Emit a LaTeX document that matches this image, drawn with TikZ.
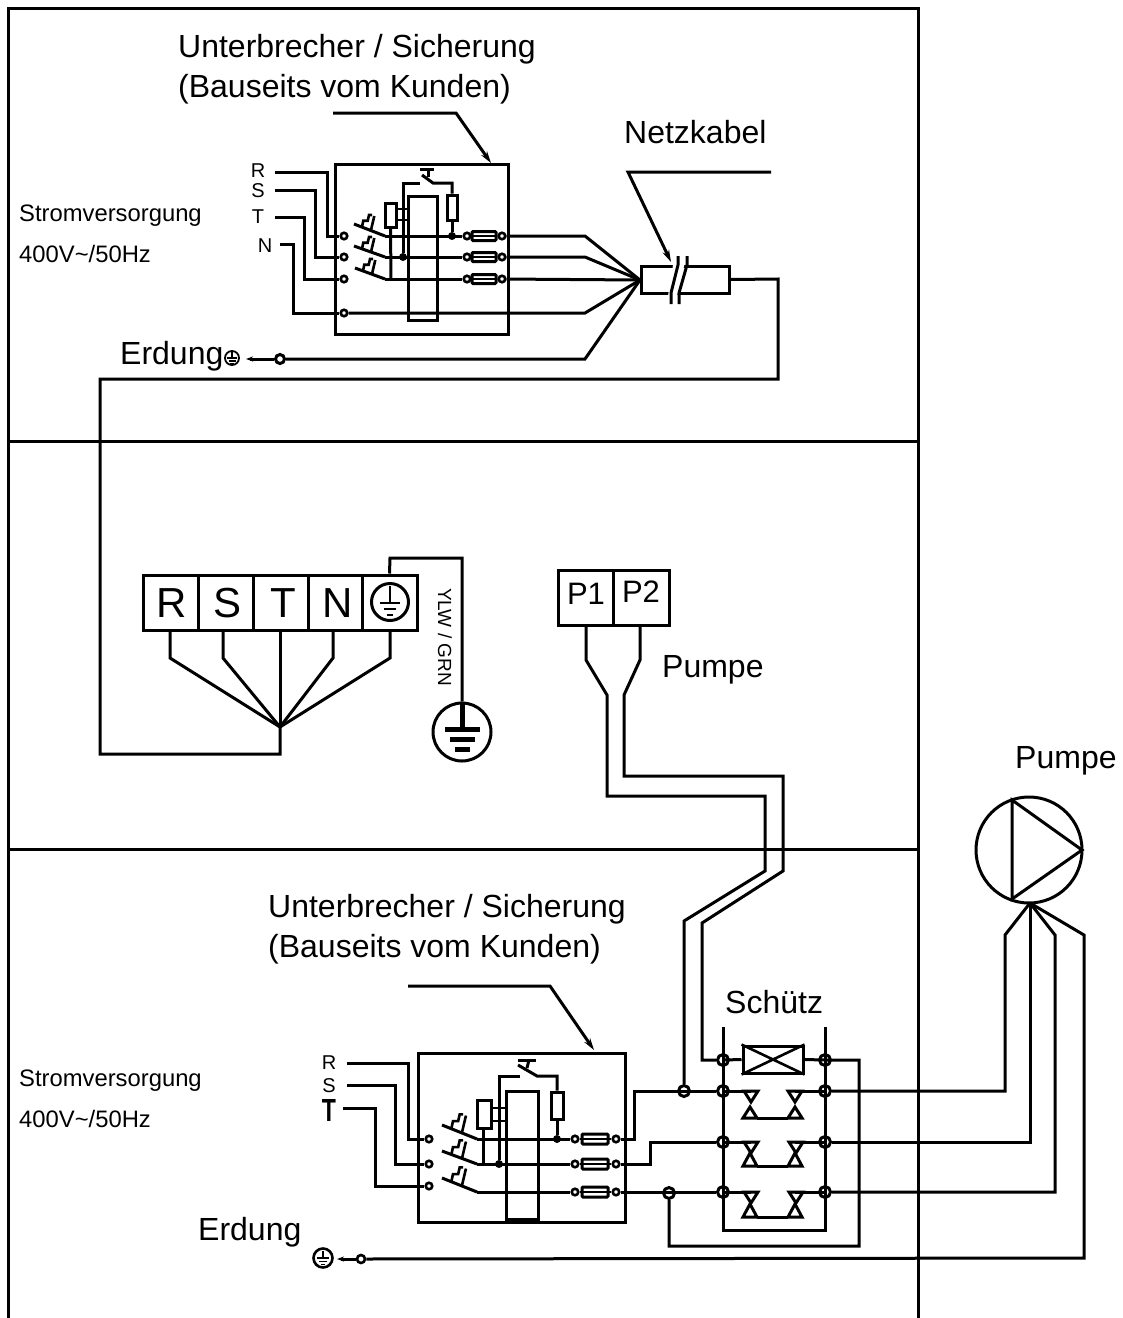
\documentclass[tikz,border=0pt]{standalone}
\usepackage{fontspec}
\setmainfont{Liberation Sans}
\usetikzlibrary{arrows.meta,calc}
\tikzset{
 wire/.style={line width=3pt,line join=miter},
 thin wire/.style={line width=2.6pt},
 ptr/.style={line width=3pt,-{Stealth[length=12pt,width=7pt]}},
 term/.style={circle,draw,fill=white,line width=2.6pt,inner sep=0pt,minimum size=6.5pt},
 dotn/.style={circle,fill=black,inner sep=0pt,minimum size=8pt},
 cross/.style={circle,draw,line width=3pt,inner sep=0pt,minimum size=11pt},
 boxn/.style={rectangle,draw,line width=3pt,inner sep=0pt},
 fuse/.style={boxn,rounded corners=1pt,minimum width=24pt,minimum height=9pt},
 lab/.style={anchor=base west,inner sep=0pt,font=\fontsize{32}{36}\selectfont},
 small/.style={anchor=base west,inner sep=0pt,font=\fontsize{23.8}{26}\selectfont},
 phase/.style={anchor=center,inner sep=0pt,font=\fontsize{20}{22}\selectfont},
 big/.style={anchor=base,inner sep=0pt,font=\fontsize{42}{46}\selectfont},
 pin/.style={anchor=base,inner sep=0pt,font=\fontsize{31}{36}\selectfont},
 tip/.style={-{Stealth[length=7pt,width=5pt]},line width=3pt}
}
% switch mark: #1 blade start, #2 scale
\newcommand{\swmark}[2]{%
 \begin{scope}[shift={(#1)},x=#2pt,y=-#2pt]
  \draw[thin wire] (8,2.7) -- (9.3,-3.3) -- (13.7,-3.3) -- (15,-9) -- (18,-9);
  \draw[thin wire] (20.3,-8) -- (17,6);
 \end{scope}}
\newcommand{\contact}[3]{%
 \draw[wire,line join=miter] (#1,#2) -- ++(14,0) -- ++(-7,#3) -- cycle;}
\newcommand{\contactup}[3]{%
 \draw[wire,line join=miter] (#1,#2) -- ++(14,0) -- ++(-7,-#3) -- cycle;}
\begin{document}
\begin{tikzpicture}[x=1pt,y=-1pt]
\useasboundingbox (0,0) rectangle (1123,1318);
\fill[white] (0,0) rectangle (1123,1318);
% frame
\coordinate (fTL) at (8,8); \coordinate (fTR) at (918,8);
\coordinate (fBL) at (8,1318); \coordinate (fBR) at (918,1318);
\draw[wire] (fBL) -- (fTL) -- (fTR) -- (fBR);
\draw[wire] (8,441) -- (918,441);
\draw[wire] (8,849) -- (918,849);

%%%%%%%%%%%%% top section
\node[lab] (t1) at (178,57) {Unterbrecher / Sicherung};
\node[lab] (t2) at (178,97) {(Bauseits vom Kunden)};
\node[lab] (t3) at (624,143) {Netzkabel};
\node[small] (t4) at (19,221) {Stromversorgung};
\node[small] (t5) at (19,262) {400V\textasciitilde/50Hz};
\node[lab] (t6) at (120,364) {Erdung};
\node[phase] (lR) at (258,171) {R};
\node[phase] (lS) at (258,191) {S};
\node[phase] (lT) at (258,217) {T};
\node[phase] (lN) at (265,246) {N};

\node[boxn,minimum width=173pt,minimum height=170pt] (brk) at (421.5,249) {};
\node[boxn,minimum width=29pt,minimum height=124pt] (core) at (422.5,258) {};

\coordinate (R0) at (275,172); \coordinate (S0) at (275,190); \coordinate (T0) at (275,217); \coordinate (N0) at (280,244);
\node[term] (Ra) at (344,236) {}; \node[term] (Sa) at (344,257) {}; \node[term] (Ta) at (344,279) {}; \node[term] (Na) at (344,313) {};
\draw[wire] (R0) -- (327,172) -- (327,236) -- (Ra);
\draw[wire] (S0) -- (315,190) -- (315,257) -- (Sa);
\draw[wire] (T0) -- (304,217) -- (304,279) -- (Ta);
\draw[wire] (N0) -- (293,244) -- (293,313) -- (Na);
% blades
\coordinate (Rb) at (385,236); \coordinate (Sb) at (385,257); \coordinate (Tb) at (385,279);
\draw[wire] (354,224) -- (Rb); \draw[wire] (354,246) -- (Sb); \draw[wire] (355,268) -- (Tb);
\swmark{354,224}{1} \swmark{354,246}{1} \swmark{355,268}{1}
\node[term] (Rc) at (467,236) {}; \node[term] (Sc) at (467,257) {}; \node[term] (Tc) at (467,279) {};
\node[term] (Rd) at (502,236) {}; \node[term] (Sd) at (502,257) {}; \node[term] (Td) at (502,279) {};
\draw[wire] (Rb) -- (Rc); \draw[wire] (Sb) -- (Sc); \draw[wire] (Tb) -- (Tc);
\node[fuse] (Rf) at (484,236) {}; \node[fuse] (Sf) at (484,257) {}; \node[fuse] (Tf) at (484,279) {};
\draw[line width=1.3pt] (Rc) -- (Rd); \draw[line width=1.3pt] (Sc) -- (Sd); \draw[line width=1.3pt] (Tc) -- (Td);
% merge
\coordinate (M) at (640,280);
\draw[wire] (Rd) -- (585,236) -- (M);
\draw[wire] (Sd) -- (585,257) -- (M);
\draw[wire] (Td) -- (M);
\draw[wire] (Na) -- (585,313) -- (M);
% coil
\node[boxn,minimum width=11pt,minimum height=24pt] (coil) at (390.5,215) {};
\draw[wire] (coil.south) -- (391,279);
\draw[thin wire] (396,209) -- (408,209);
\draw[thin wire] (396,220) -- (408,220);
\node[dotn] (Sj) at (403,257) {};
\node[dotn] (Rj) at (452,236) {};
\node[boxn,minimum width=10pt,minimum height=25pt] (res) at (452,207.5) {};
\coordinate (pbL) at (422,175); \coordinate (pbR) at (433,183);
\draw[wire] (Sj) -- (403,183) -- (420,183);
\draw[wire] (pbL) -- (pbR) -- (452,183) -- (res);
\draw[wire] (res) -- (Rj);
\draw[wire] (420,169) -- (434,169); \draw[wire] (428,169) -- (428,177);
% pointer
\draw[ptr] (333,113) -- (456,113) -- (491,163);
% cable
\node[boxn,minimum width=88pt,minimum height=27pt] (cab) at (685,279.5) {};
\fill[white] (673.5,262) -- (685,262) -- (677,296) -- (668,296) -- cycle;
\draw[wire] (678,256) -- (678,265) -- (671,293) -- (671,304);
\draw[wire] (687,256) -- (687,265) -- (679,293) -- (679,304);
\draw[ptr] (771,172) -- (628,172) -- (671,262);
% earth top
\node[circle,draw,line width=1.8pt,inner sep=0pt,minimum size=14pt] (gt) at (232,358) {};
\draw[line width=1.5pt] (232,352) -- (232,358) (227,358) -- (237,358) (228.5,361) -- (235.5,361) (230,363.5) -- (234,363.5);
\node[term,line width=3pt,minimum size=9pt] (gta) at (280,359) {};
\draw[tip] (gta) -- (246,359);
\draw[wire] (gta) -- (585,359) -- (M);
% outlet
\coordinate (Wa) at (778,279); \coordinate (Wb) at (778,379); \coordinate (Wc) at (100,379); \coordinate (Wd) at (100,754); \coordinate (We) at (280,754);
\coordinate (Hub) at (280,727);
\draw[wire] (cab.east) -- (Wa) -- (Wb) -- (Wc) -- (Wd) -- (We) -- (Hub);

%%%%%%%%%%%%% middle
\node[boxn,minimum width=55pt,minimum height=55pt] (bR) at (170.5,602.5) {};
\node[boxn,minimum width=55pt,minimum height=55pt] (bS) at (225.5,602.5) {};
\node[boxn,minimum width=55pt,minimum height=55pt] (bT) at (280.5,602.5) {};
\node[boxn,minimum width=54pt,minimum height=55pt] (bN) at (335,602.5) {};
\node[boxn,minimum width=55pt,minimum height=55pt] (bG) at (389.5,602.5) {};
\node[big] at (172,617) {R};
\node[big] at (228,617) {S};
\node[big] at (283,617) {T};
\node[big] at (338,617) {N};
\node[circle,draw,line width=3pt,inner sep=0pt,minimum size=37pt] (gc) at (390,602) {};
\draw[line width=2.4pt] (390,586) -- (390,603) (380,603) -- (400,603) (384,609) -- (396,609) (387,615) -- (393,615);
\draw[wire] (170,630) -- (170,658) -- (Hub);
\draw[wire] (223,630) -- (223,658) -- (Hub);
\draw[wire] (280,630) -- (Hub);
\draw[wire] (333,630) -- (333,658) -- (Hub);
\draw[wire] (390,630) -- (390,658) -- (Hub);
\node[circle,draw,line width=3pt,inner sep=0pt,minimum size=58pt] (ge) at (462,732) {};
\draw[wire] (bG.north) -- (390,558) -- (462,558) -- (ge.north);
\draw[line width=5pt] (462,703) -- (462,728);
\draw[line width=5pt] (445,729) -- (480,729) (450,739) -- (475,739) (455,749) -- (470,749);
\node[rotate=-90,inner sep=0pt,font=\fontsize{19}{21}\selectfont] (yg) at (445,637) {YLW / GRN};

\node[boxn,minimum width=55pt,minimum height=55pt] (P1) at (586,597.5) {};
\node[boxn,minimum width=56pt,minimum height=55pt] (P2) at (641,597.5) {};
\node[pin] at (586,604) {P1};
\node[pin] at (641,602) {P2};
\node[lab] (t7) at (662,677) {Pumpe};

%%%%%%%%%%%%% bottom
\node[lab] (t8) at (268,917) {Unterbrecher / Sicherung};
\node[lab] (t9) at (268,957) {(Bauseits vom Kunden)};
\node[small] (t10) at (19,1086) {Stromversorgung};
\node[small] (t11) at (19,1127) {400V\textasciitilde/50Hz};
\node[lab] (t12) at (198,1240) {Erdung};
\node[lab] (t13) at (725,1013) {Schütz};
\node[lab] (t14) at (1015,768) {Pumpe};
\node[phase] (l2R) at (329,1063) {R};
\node[phase] (l2S) at (329,1086) {S};
\node[phase] (l2T) at (329,1110) {\scalebox{0.72}[1]{\bfseries\fontsize{32}{34}\selectfont T}};

\node[boxn,minimum width=207pt,minimum height=169pt] (brk2) at (521.5,1137.5) {};
\node[boxn,minimum width=32pt,minimum height=128pt] (core2) at (522,1155) {};
\coordinate (R1) at (347,1063); \coordinate (S1) at (347,1085); \coordinate (T1) at (343,1108);
\node[term] (R2a) at (429,1139) {}; \node[term] (S2a) at (429,1164) {}; \node[term] (T2a) at (429,1186) {};
\draw[wire] (R1) -- (408,1063) -- (408,1139) -- (R2a);
\draw[wire] (S1) -- (395,1085) -- (395,1164) -- (S2a);
\draw[wire] (T1) -- (375,1108) -- (375,1186) -- (T2a);
\coordinate (R2b) at (477,1139); \coordinate (S2b) at (477,1164); \coordinate (T2b) at (477,1192);
\draw[wire] (442,1125) -- (R2b); \draw[wire] (442,1151) -- (S2b); \draw[wire] (442,1178) -- (T2b);
\swmark{442,1125}{1.18} \swmark{442,1151}{1.18} \swmark{442,1178}{1.18}
\node[term] (R2c) at (575,1139) {}; \node[term] (S2c) at (575,1164) {}; \node[term] (T2c) at (575,1192) {};
\node[term] (R2d) at (616,1139) {}; \node[term] (S2d) at (616,1164) {}; \node[term] (T2d) at (616,1192) {};
\draw[wire] (R2b) -- (R2c); \draw[wire] (S2b) -- (S2c); \draw[wire] (T2b) -- (T2c);
\node[fuse,minimum width=26pt,minimum height=10pt] (R2f) at (595,1139) {};
\node[fuse,minimum width=26pt,minimum height=10pt] (S2f) at (595,1164) {};
\node[fuse,minimum width=26pt,minimum height=10pt] (T2f) at (595,1192) {};
\draw[line width=1.3pt] (R2c) -- (R2d); \draw[line width=1.3pt] (S2c) -- (S2d); \draw[line width=1.3pt] (T2c) -- (T2d);
\node[boxn,minimum width=14pt,minimum height=28pt] (coil2) at (484,1114) {};
\draw[wire] (483,1128) -- (483,1164);
\draw[thin wire] (491,1108) -- (506,1108);
\draw[thin wire] (491,1121) -- (506,1121);
\node[dotn] (S2j) at (499,1164) {};
\node[dotn] (R2j) at (557,1139) {};
\node[boxn,minimum width=12pt,minimum height=27pt] (res2) at (557,1105.5) {};
\coordinate (pb2L) at (518,1065); \coordinate (pb2R) at (537,1076);
\draw[wire] (S2j) -- (499,1076) -- (520,1076);
\draw[wire] (pb2L) -- (pb2R) -- (557,1076) -- (res2);
\draw[wire] (res2) -- (R2j);
\draw[wire] (518,1060) -- (536,1060); \draw[wire] (529,1060) -- (527,1068);
\draw[ptr] (408,986) -- (550,986) -- (594,1050);
% earth bottom
\node[circle,draw,line width=2.6pt,inner sep=0pt,minimum size=19pt] (gb) at (323,1258) {};
\draw[line width=1.8pt] (323,1251) -- (323,1258) (317,1258) -- (329,1258) (319,1261.5) -- (327,1261.5) (321,1264.5) -- (325,1264.5);
\node[term,minimum size=8pt] (gba) at (361,1259) {};
\draw[tip] (gba) -- (337,1259);

% contactor
\coordinate (Lt) at (723,1027); \coordinate (Rt) at (825,1027);
\coordinate (Lb) at (723,1230); \coordinate (Rb2) at (825,1230);
\draw[wire] (Lt) -- (Lb) -- (Rb2) -- (Rt);
\node[cross] (c0L) at (723,1060) {}; \node[cross] (c0R) at (825,1060) {};
\node[cross] (c1L) at (723,1091) {}; \node[cross] (c1R) at (825,1091) {};
\node[cross] (c2L) at (723,1142) {}; \node[cross] (c2R) at (825,1142) {};
\node[cross] (c3L) at (723,1192) {}; \node[cross] (c3R) at (825,1192) {};
\node[cross] (n1) at (684,1091) {};
\node[cross] (n3) at (669,1193) {};
\node[boxn,minimum width=60pt,minimum height=27pt] (coilK) at (773,1059.5) {};
\draw[thin wire] (coilK.north west) -- (coilK.south east) (coilK.south west) -- (coilK.north east);
\draw[wire] (723,1060) -- (coilK.west); \draw[wire] (coilK.east) -- (825,1060) -- (859,1060) -- (859,1246) -- (669,1246) -- (n3);
\draw[wire] (723,1091) -- (751,1091);
\draw[wire] (795,1091) -- (825,1091);
\draw[wire] (723,1142) -- (751,1142);
\draw[wire] (795,1142) -- (825,1142);
\draw[wire] (723,1192) -- (751,1192);
\draw[wire] (795,1192) -- (825,1192);
% contact triangles
\contact{744}{1091}{11} \contact{788}{1091}{11}
\contactup{743}{1118}{11} \contactup{788}{1118}{11}
\draw[wire] (757,1118) -- (788,1118);
\contact{744}{1142}{11} \contact{789}{1142}{11}
\contactup{743}{1166}{13} \contactup{788}{1166}{13}
\draw[wire] (757,1166) -- (788,1166);
\contact{744}{1192}{11} \contact{789}{1192}{11}
\contactup{743}{1217}{13} \contactup{788}{1217}{13}
\draw[wire] (757,1217) -- (788,1217);
% breaker to contactor
\draw[wire] (R2d) -- (634,1139) -- (634,1091) -- (c1L);
\draw[wire] (S2d) -- (650,1164) -- (650,1142) -- (c2L);
\draw[wire] (T2d) -- (c3L);
% pump wires from P terminals
\draw[wire] (586,625) -- (586,660) -- (607,695) -- (607,796) -- (765,796) -- (765,871) -- (684,921) -- (n1);
\draw[wire] (640,625) -- (640,660) -- (624,695) -- (624,776) -- (783,776) -- (783,871) -- (702,923) -- (702,1060) -- (c0L);
% pump
\node[circle,draw,line width=3pt,inner sep=0pt,minimum size=106pt] (pump) at (1029,850) {};
\draw[wire,line join=miter] (1012,800) -- (1012,899) -- (1082,850) -- cycle;
\coordinate (PJ) at (1030,903);
\draw[wire] (c1R) -- (1005,1091) -- (1005,935) -- (PJ);
\draw[wire] (c2R) -- (1030,1142) -- (PJ);
\draw[wire] (c3R) -- (1055,1192) -- (1055,935) -- (PJ);
\draw[wire] (gba) -- (1084,1258) -- (1084,935) -- (PJ);
\end{tikzpicture}
\end{document}
